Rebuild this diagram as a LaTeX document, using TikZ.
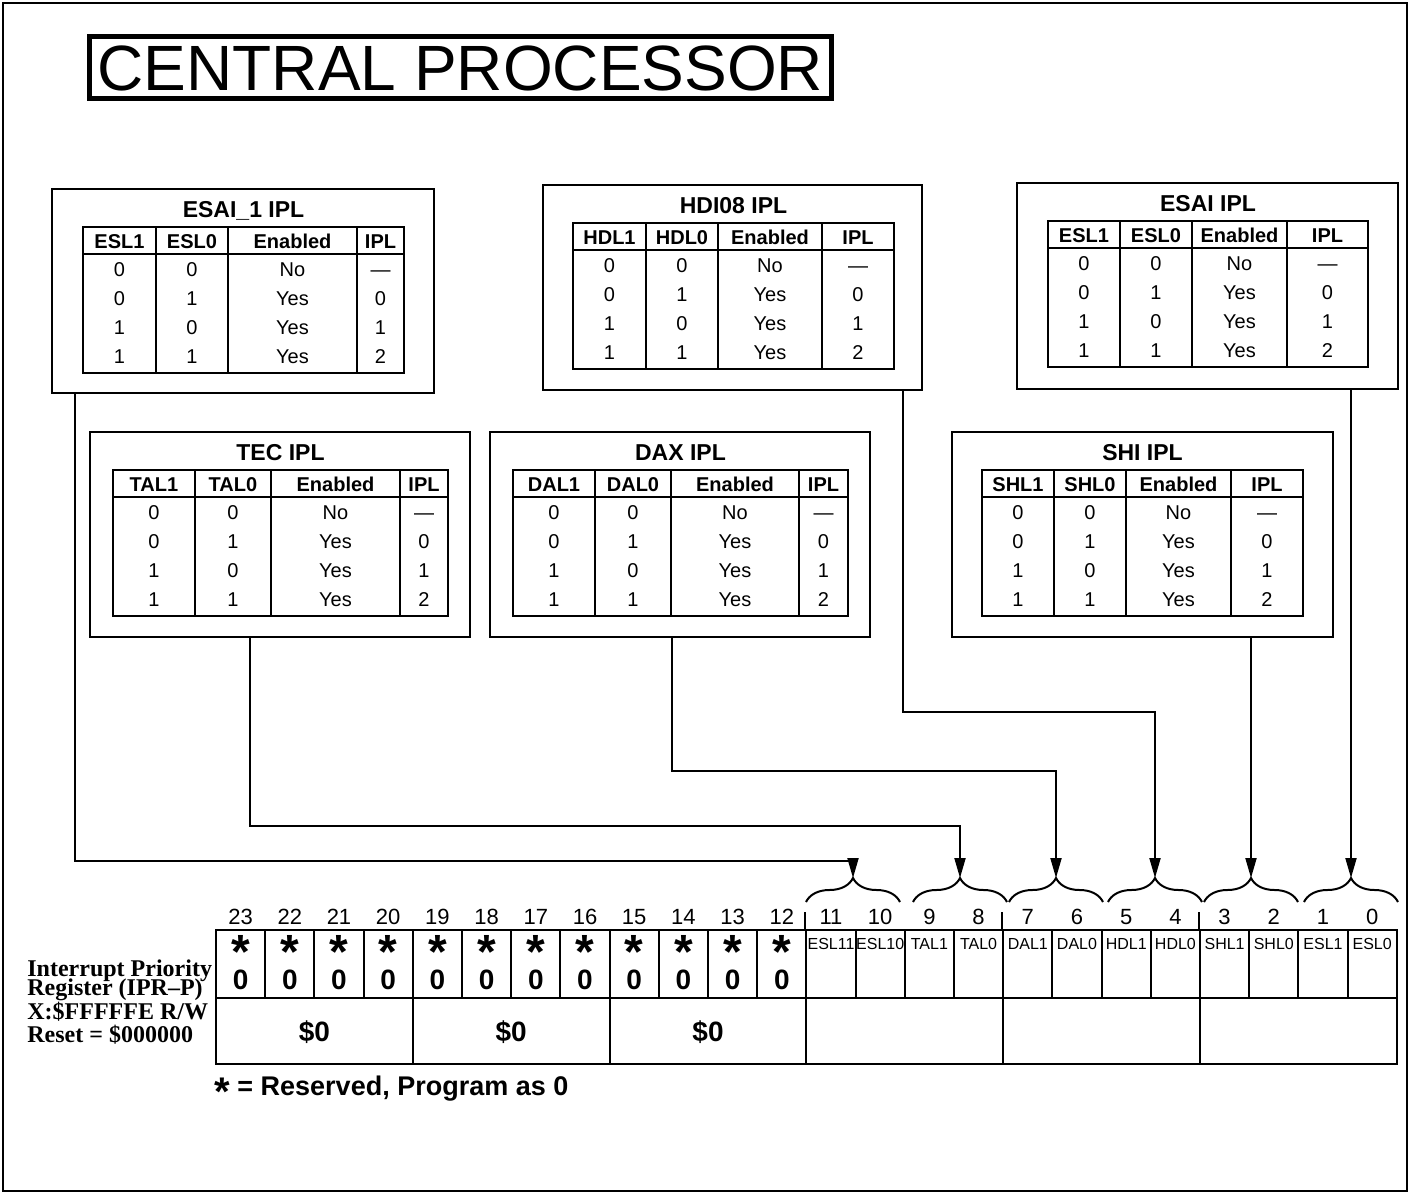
\documentclass[tikz,border=0pt]{standalone}
\usepackage{fontspec}
\setmainfont{Liberation Sans}
\newfontfamily\regfont{Liberation Serif}
\usetikzlibrary{arrows.meta, decorations.pathreplacing, fit}

% #1 name, #2 title, #3 bit prefix, #4 box top, #5 table left, #6-#8 column rules, #9 table right
\newcommand{\ipltable}[9]{%
  \node[tabtitle] (#1-title) at ({(#5+#9)/2}, #4+20) {#2};
  \draw[tabline] (#5,#4+38) rectangle (#9,#4+184);
  \draw[tabline] (#5,#4+65) -- (#9,#4+65);
  \foreach \x in {#6,#7,#8} \draw[tabline] (\x,#4+38) -- (\x,#4+184);
  \node[tabhead] (#1-h1) at ({(#5+#6)/2}, #4+52) {#31};
  \node[tabhead] (#1-h0) at ({(#6+#7)/2}, #4+52) {#30};
  \node[tabhead] (#1-hen) at ({(#7+#8)/2}, #4+52) {Enabled};
  \node[tabhead] (#1-hipl) at ({(#8+#9)/2}, #4+52) {IPL};
  \foreach \a/\b/\en/\ip [count=\k] in {0/0/No/—,0/1/Yes/0,1/0/Yes/1,1/1/Yes/2} {
    \node[tabcell] (#1-a\k) at ({(#5+#6)/2}, #4+51+29*\k) {\a};
    \node[tabcell] (#1-b\k) at ({(#6+#7)/2}, #4+51+29*\k) {\b};
    \node[tabcell] (#1-e\k) at ({(#7+#8)/2}, #4+51+29*\k) {\en};
    \node[tabcell] (#1-i\k) at ({(#8+#9)/2}, #4+51+29*\k) {\ip};
  }%
}

\begin{document}
\begin{tikzpicture}[
    x=0.5pt, y=-0.5pt,
    >={Triangle[length=10pt, width=5.5pt]},
    frame/.style={draw, line width=1.2pt},
    titlebox/.style={draw, line width=2.5pt, inner sep=0pt, minimum width=371pt, minimum height=31pt,
        font=\fontsize{32}{32}\selectfont, text height=22.9pt, text depth=0pt},
    iplbox/.style={draw, line width=1.2pt, inner sep=0pt},
    tabline/.style={line width=1pt},
    tabtitle/.style={inner sep=0pt, font=\fontsize{11.5}{13}\selectfont\bfseries, text height=8.2pt, text depth=0pt},
    tabhead/.style={inner sep=0pt, font=\fontsize{10}{12}\selectfont\bfseries, text height=7.2pt, text depth=0pt},
    tabcell/.style={inner sep=0pt, font=\fontsize{10}{12}\selectfont, text height=7.2pt, text depth=0pt},
    bitcell/.style={draw, line width=1pt, inner sep=0pt, minimum width=24.6pt, minimum height=34pt},
    grpcell/.style={draw, line width=1pt, inner sep=0pt, minimum width=98.4pt, minimum height=33pt,
        font=\fontsize{14}{14}\selectfont\bfseries, text height=10pt, text depth=0pt},
    bitnum/.style={inner sep=0pt, font=\fontsize{11}{12}\selectfont, text height=7.9pt, text depth=0pt},
    field/.style={inner sep=0pt, font=\fontsize{8}{9}\selectfont, text height=5.7pt, text depth=0pt},
    resv/.style={inner sep=0pt, font=\fontsize{24}{24}\selectfont\bfseries, text height=17.5pt, text depth=-10.5pt},
    zero/.style={inner sep=0pt, font=\fontsize{14}{14}\selectfont\bfseries, text height=10pt, text depth=0pt},
    reglabel/.style={inner sep=0pt, anchor=base west, font=\regfont\fontsize{12}{14}\selectfont\bfseries},
    note/.style={inner sep=0pt, anchor=base west, font=\fontsize{13.5}{15}\selectfont\bfseries},
    brace/.style={decorate, decoration={brace, amplitude=12pt}, line width=1pt},
    conn/.style={->, line width=1pt}
]
\useasboundingbox (0,0) rectangle (1410,1194);
\draw[frame] (3,3) rectangle (1407,1191);

% Title
\node[titlebox] (title) at (460.5,67.5) {CENTRAL PROCESSOR};

% IPL boxes
\node[iplbox, fit={(52,189) (434,393)}] (esai1) {};
\node[iplbox, fit={(543,185) (922,390)}] (hdi) {};
\node[iplbox, fit={(1017,183) (1398,389)}] (esai) {};
\node[iplbox, fit={(90,432) (470,637)}] (tec) {};
\node[iplbox, fit={(490,432) (870,637)}] (dax) {};
\node[iplbox, fit={(952,432) (1333,637)}] (shi) {};

\ipltable{esai1}{ESAI\_1 IPL}{ESL}{189}{83}{156}{228}{357}{404}
\ipltable{hdi}{HDI08 IPL}{HDL}{185}{573}{646}{718}{822}{894}
\ipltable{esai}{ESAI IPL}{ESL}{183}{1048}{1120}{1192}{1287}{1368}
\ipltable{tec}{TEC IPL}{TAL}{432}{113}{195}{271}{400}{448}
\ipltable{dax}{DAX IPL}{DAL}{432}{513}{595}{671}{799}{848}
\ipltable{shi}{SHI IPL}{SHL}{432}{982}{1054}{1126}{1231}{1303}

% Register
\foreach \b in {0,...,23} {
  \node[bitcell] (b\b) at ({240.6+(23-\b)*49.2}, 964) {};
  \node[bitnum] (n\b) at ({240.6+(23-\b)*49.2}, 917) {\b};
}
\foreach \b in {12,...,23} {
  \node[resv] (s\b) at ({240.6+(23-\b)*49.2}, 951) {*};
  \node[zero] (z\b) at ({240.6+(23-\b)*49.2}, 979) {0};
}
\foreach \b/\f in {11/ESL11,10/ESL10,9/TAL1,8/TAL0,7/DAL1,6/DAL0,5/HDL1,4/HDL0,3/SHL1,2/SHL0,1/ESL1,0/ESL0}
  \node[field] (f\b) at ({240.6+(23-\b)*49.2}, 944) {\f};
\foreach \g in {0,1,2}
  \node[grpcell] (g\g) at ({314.4+\g*196.8}, 1031) {\$0};
\foreach \g in {3,4,5}
  \node[grpcell] (g\g) at ({314.4+\g*196.8}, 1031) {};
\foreach \b in {11,7,3}
  \draw[line width=1pt] (b\b.north west) -- ++(0,-17);

\node[reglabel] (lbl1) at (27,976) {Interrupt Priority};
\node[reglabel] (lbl2) at (27,995) {Register (IPR–P)};
\node[reglabel] (lbl3) at (27,1019) {X:\$FFFFFE R/W};
\node[reglabel] (lbl4) at (27,1042) {Reset = \$000000};
\node[note] (legend) at (214,1095) {{\fontsize{20}{20}\selectfont\raisebox{-5pt}{*}} = Reserved, Program as 0};

% Braces
\foreach \c/\n in {853/11,960/9,1056/7,1155/5,1251/3,1351/1} {
  \draw[brace] (\c-47,902) -- (\c+47,902);
  \coordinate (t\n) at (\c,878);
}

% Edges
\coordinate (k1) at (75,861);
\coordinate (k2) at (250,826);
\coordinate (k3) at (672,771);
\coordinate (k4) at (903,712);
\draw[conn] (esai1.south -| k1) -- (k1) -| (t11);
\draw[conn] (tec.south -| k2) -- (k2) -| (t9);
\draw[conn] (dax.south -| k3) -- (k3) -| (t7);
\draw[conn] (hdi.south -| k4) -- (k4) -| (t5);
\draw[conn] (shi.south -| t3) -- (t3);
\draw[conn] (esai.south -| t1) -- (t1);
\end{tikzpicture}
\end{document}
